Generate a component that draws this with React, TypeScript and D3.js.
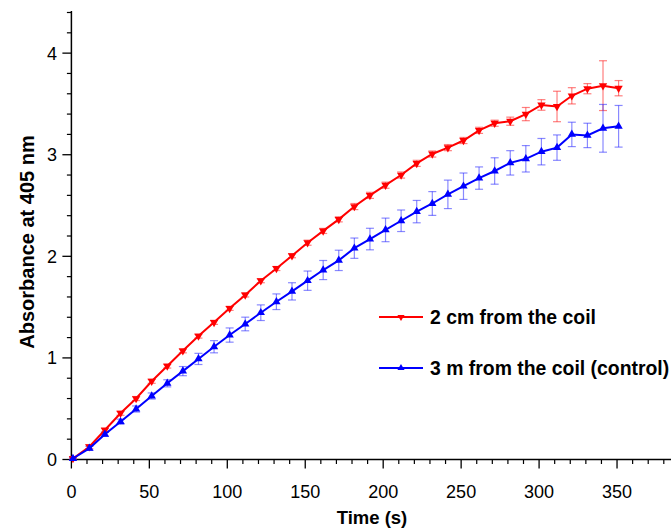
import React from "react";
import * as d3 from "d3";

const times = [1, 11.5, 21.5, 31.5, 41.5, 51.5, 61.5, 71.5, 81.5, 91.5, 101.5, 111.5, 121.5, 131.5, 141.5, 151.5, 161.5, 171.5, 181.5, 191.5, 201.5, 211.5, 221.5, 231.5, 241.5, 251.5, 261.5, 271.5, 281.5, 291.5, 301.5, 311.5, 321, 331, 341, 351];
const nearValues = [0.01, 0.126, 0.29, 0.455, 0.6, 0.77, 0.92, 1.07, 1.215, 1.35, 1.488, 1.62, 1.76, 1.88, 2.006, 2.134, 2.25, 2.364, 2.49, 2.6, 2.7, 2.8, 2.915, 3.007, 3.07, 3.14, 3.24, 3.31, 3.33, 3.4, 3.49, 3.475, 3.58, 3.65, 3.68, 3.655];
const nearErrors = [0.005, 0.02, 0.02, 0.02, 0.02, 0.02, 0.02, 0.02, 0.02, 0.02, 0.02, 0.02, 0.02, 0.02, 0.02, 0.025, 0.025, 0.025, 0.03, 0.03, 0.03, 0.03, 0.03, 0.03, 0.03, 0.03, 0.03, 0.03, 0.04, 0.065, 0.052, 0.15, 0.08, 0.05, 0.245, 0.075];
const farValues = [0.01, 0.11, 0.248, 0.372, 0.497, 0.625, 0.75, 0.87, 0.99, 1.11, 1.225, 1.334, 1.445, 1.553, 1.655, 1.76, 1.865, 1.96, 2.08, 2.17, 2.26, 2.35, 2.44, 2.52, 2.61, 2.69, 2.77, 2.84, 2.92, 2.96, 3.03, 3.07, 3.2, 3.19, 3.26, 3.28];
const farErrors = [0.01, 0.02, 0.02, 0.025, 0.03, 0.03, 0.035, 0.045, 0.055, 0.06, 0.07, 0.067, 0.077, 0.077, 0.085, 0.095, 0.094, 0.1, 0.1, 0.106, 0.116, 0.106, 0.11, 0.117, 0.14, 0.13, 0.11, 0.13, 0.12, 0.13, 0.13, 0.125, 0.12, 0.12, 0.235, 0.205];
const seriesNames = ["2 cm from the coil", "3 m from the coil (control)"];
const xTicks = [0, 50, 100, 150, 200, 250, 300, 350];
const yTicks = [0, 1, 2, 3, 4];
const xTitle = "Time (s)";
const yTitle = "Absorbance at 405 nm";

const FONT = "'Liberation Sans', Arial, sans-serif";

export default function App() {
  const W = 671, H = 528;
  const x = d3.scaleLinear().domain([0, 385]).range([71.4, 671.6]);
  const y = d3.scaleLinear().domain([0, 4.4]).range([459.5, 12.5]);
  const xMinor = d3.range(0, 390, 10).filter((v) => v % 50 !== 0);
  const yMinor = d3.range(0, 4.41, 0.2).map((v) => Math.round(v * 10) / 10).filter((v) => Math.abs(v - Math.round(v)) > 1e-6);

  const series = [
    { name: seriesNames[0], values: nearValues, errors: nearErrors, color: "#ff0000", bar: "rgba(255,40,40,0.6)", down: true },
    { name: seriesNames[1], values: farValues, errors: farErrors, color: "#0000ff", bar: "rgba(40,40,255,0.55)", down: false },
  ];
  const line = d3.line<number>().x((_, i) => x(times[i])).y((v) => y(v));
  const tri = d3.symbol().type(d3.symbolTriangle).size(30)() as string;
  const triSmall = d3.symbol().type(d3.symbolTriangle).size(22)() as string;

  return (
    <svg width={W} height={H} style={{ position: "absolute", left: 0, top: 0, background: "#fff" }} fontFamily={FONT}>
      {/* axes */}
      <line x1={x(0)} x2={x(0)} y1={y(0)} y2={11} stroke="#000" strokeWidth={1.5} />
      <line x1={x(0)} x2={W} y1={y(0)} y2={y(0)} stroke="#000" strokeWidth={1.5} />
      {xTicks.map((t) => (
        <g key={"xt" + t}>
          <line x1={x(t)} x2={x(t)} y1={y(0)} y2={y(0) + 9} stroke="#000" strokeWidth={1.3} />
          <text x={x(t)} y={498} fontSize={18} textAnchor="middle">{t}</text>
        </g>
      ))}
      {xMinor.map((t) => (
        <line key={"xm" + t} x1={x(t)} x2={x(t)} y1={y(0)} y2={y(0) + 4.5} stroke="#000" strokeWidth={1.2} />
      ))}
      {yTicks.map((t) => (
        <g key={"yt" + t}>
          <line x1={x(0) - 9} x2={x(0)} y1={y(t)} y2={y(t)} stroke="#000" strokeWidth={1.3} />
          <text x={57} y={y(t) + 6.5} fontSize={18} textAnchor="end">{t}</text>
        </g>
      ))}
      {yMinor.map((t) => (
        <line key={"ym" + t} x1={x(0) - 4.5} x2={x(0)} y1={y(t)} y2={y(t)} stroke="#000" strokeWidth={1.2} />
      ))}
      <text x={372} y={524} fontSize={18.5} fontWeight="bold" textAnchor="middle">{xTitle}</text>
      <text transform={`translate(33.5,242) rotate(-90)`} fontSize={20} fontWeight="bold" textAnchor="middle">{yTitle}</text>

      {/* error bars */}
      {series.map((s) => (
        <g key={"eb" + s.name} stroke={s.bar} strokeWidth={1.2}>
          {s.values.map((v, i) => {
            const cx = x(times[i]);
            const y1 = y(v + s.errors[i]);
            const y2 = y(v - s.errors[i]);
            return (
              <g key={i}>
                <line x1={cx} x2={cx} y1={y1} y2={y2} />
                <line x1={cx - 4} x2={cx + 4} y1={y1} y2={y1} />
                <line x1={cx - 4} x2={cx + 4} y1={y2} y2={y2} />
              </g>
            );
          })}
        </g>
      ))}

      {/* lines and markers */}
      {series.map((s) => (
        <g key={"ln" + s.name}>
          <path d={line(s.values) as string} fill="none" stroke={s.color} strokeWidth={2} />
          {s.values.map((v, i) => (
            <path key={i} d={tri} fill={s.color}
              transform={`translate(${x(times[i])},${y(v)})${s.down ? " rotate(180)" : ""}`} />
          ))}
        </g>
      ))}

      {/* legend */}
      {series.map((s, k) => {
        const ly = 317 + k * 51;
        return (
          <g key={"lg" + s.name}>
            <line x1={379} x2={423} y1={ly} y2={ly} stroke={s.color} strokeWidth={2} />
            <path d={triSmall} fill={s.color} transform={`translate(401,${ly})${s.down ? " rotate(180)" : ""}`} />
            <text x={430} y={ly + 6.5} fontSize={19.4} fontWeight="bold">{s.name}</text>
          </g>
        );
      })}
    </svg>
  );
}
